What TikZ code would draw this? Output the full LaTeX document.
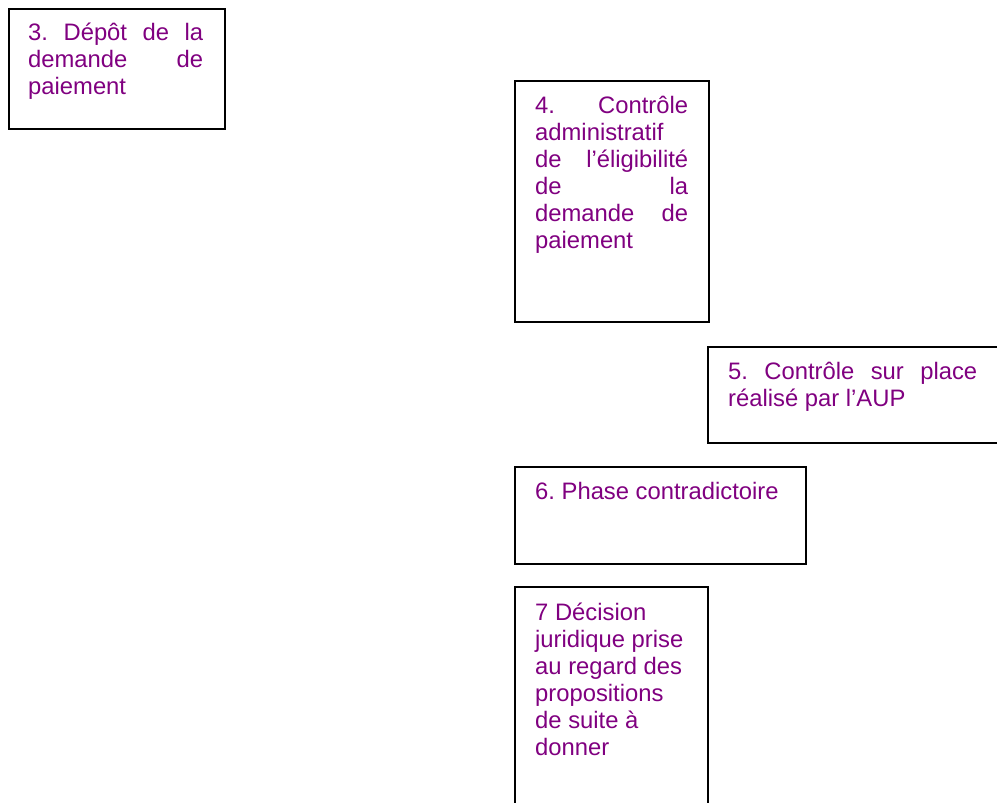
\documentclass[tikz,border=0pt]{standalone}
\usepackage{fontspec}
\setmainfont{Liberation Sans}
\definecolor{txtpurple}{RGB}{128,0,128}
\newcommand\jl[2]{\makebox[#1][s]{#2}}
\newcommand\fst{\spaceskip=0pt\relax\xspaceskip=0pt\relax\frenchspacing\rule{0pt}{24pt}}
\begin{document}
\begin{tikzpicture}[x=1pt,y=-1pt,
  box/.style={draw=black, line width=1.6pt, rectangle, inner sep=0pt, anchor=north west},
  txt/.style={inner sep=0pt, anchor=north west, align=left, text=txtpurple,
    font=\fontsize{23.8}{27}\selectfont}]
\useasboundingbox (0,0) rectangle (997,803);
% boxes
\node[box, minimum width=216pt, minimum height=120pt] (b3) at (8,8) {};
\node[box, minimum width=194pt, minimum height=241pt] (b4) at (514,80) {};
\node[box, minimum width=291pt, minimum height=96pt] (b5) at (707,346) {};
\node[box, minimum width=291pt, minimum height=97pt] (b6) at (514,466) {};
\node[box, minimum width=193pt, minimum height=230pt] (b7) at (514,586) {};
% texts
\node[txt, text width=180pt] (t3) at ([xshift=20pt,yshift=-8pt]b3.north west)
  {\fst\jl{175pt}{3. Dépôt de la}\\
   \jl{175pt}{demande de}\\
   paiement};
\node[txt, text width=160pt] (t4) at ([xshift=21pt,yshift=-9pt]b4.north west)
  {\fst\jl{153pt}{4. Contrôle}\\
   administratif\\
   \jl{153pt}{de l’éligibilité}\\
   \jl{153pt}{de la}\\
   \jl{153pt}{demande de}\\
   paiement};
\node[txt, text width=255pt] (t5) at ([xshift=21pt,yshift=-9pt]b5.north west)
  {\fst\jl{249pt}{5. Contrôle sur place}\\
   réalisé par l’AUP};
\node[txt, text width=260pt] (t6) at ([xshift=21pt,yshift=-9pt]b6.north west)
  {\fst 6. Phase contradictoire};
\node[txt, text width=165pt] (t7) at ([xshift=21pt,yshift=-10pt]b7.north west)
  {\fst 7 Décision\\
   juridique prise\\
   au regard des\\
   propositions\\
   de suite à\\
   donner};
\end{tikzpicture}
\end{document}
